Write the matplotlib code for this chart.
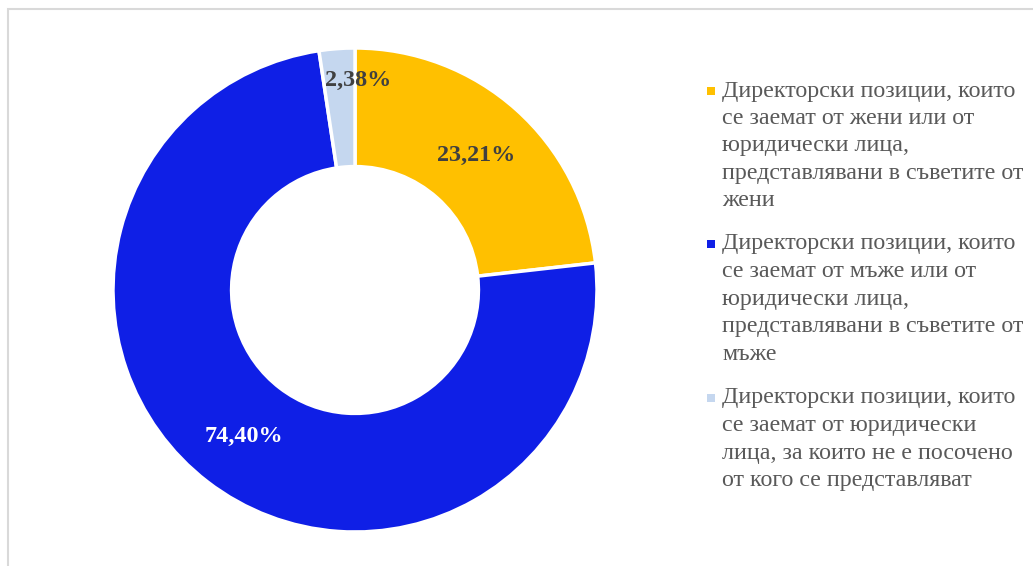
import matplotlib.pyplot as plt
from matplotlib.patches import Rectangle

plt.rcParams['font.family'] = ['Liberation Serif', 'DejaVu Serif']

values = [23.21, 74.40, 2.38]
pct_labels = ['23,21%', '74,40%', '2,38%']
colors = ['#FFC000', '#0F1FE6', '#C5D7EF']
label_colors = ['#404040', 'white', '#404040']
legend_lines = [
    ['Директорски позиции, които', 'се заемат от жени или от', 'юридически лица,',
     'представлявани в съветите от', 'жени'],
    ['Директорски позиции, които', 'се заемат от мъже или от', 'юридически лица,',
     'представлявани в съветите от', 'мъже'],
    ['Директорски позиции, които', 'се заемат от юридически',
     'лица, за които не е посочено', 'от кого се представляват'],
]

W, H = 1033, 566
fig = plt.figure(figsize=(W / 100, H / 100), dpi=100)

# chart area border (light gray, runs off the right and bottom)
fig.patches.append(Rectangle((8 / W, -0.1), 1.2, (H - 9) / H + 0.1, transform=fig.transFigure,
                             fill=False, edgecolor='#D9D9D9', linewidth=1.5))

cx, cy, r = 355, H - 290, 242
ax = fig.add_axes([(cx - r) / W, (cy - r) / H, 2 * r / W, 2 * r / H])
wedges, _ = ax.pie(values, colors=colors, startangle=90, counterclock=False,
                   radius=1, wedgeprops=dict(width=0.49, edgecolor='white', linewidth=2.5))
ax.set_xlim(-1, 1)
ax.set_ylim(-1, 1)
ax.set_aspect('equal')
ax.axis('off')

# percentage labels
label_pos = [(0.50, 0.555), (-0.46, -0.605), (0.013, 0.865)]
for (x, y), t, c in zip(label_pos, pct_labels, label_colors):
    ax.text(x, y, t, ha='center', va='center', fontsize=17.4, fontweight='bold', color=c)

# legend
entry_top = [91, 244, 398]
line_h = 27.5
for ci, (y0, lines) in enumerate(zip(entry_top, legend_lines)):
    fig.patches.append(Rectangle((707 / W, (H - y0 - 4) / H), 8 / W, 8 / H,
                                 transform=fig.transFigure, facecolor=colors[ci], edgecolor='none'))
    for li, line in enumerate(lines):
        fig.text(722 / W, (H - y0 - li * line_h) / H, line, ha='left', va='center',
                 fontsize=17.3, color='#595959')

fig.savefig('out.png', dpi=100)
